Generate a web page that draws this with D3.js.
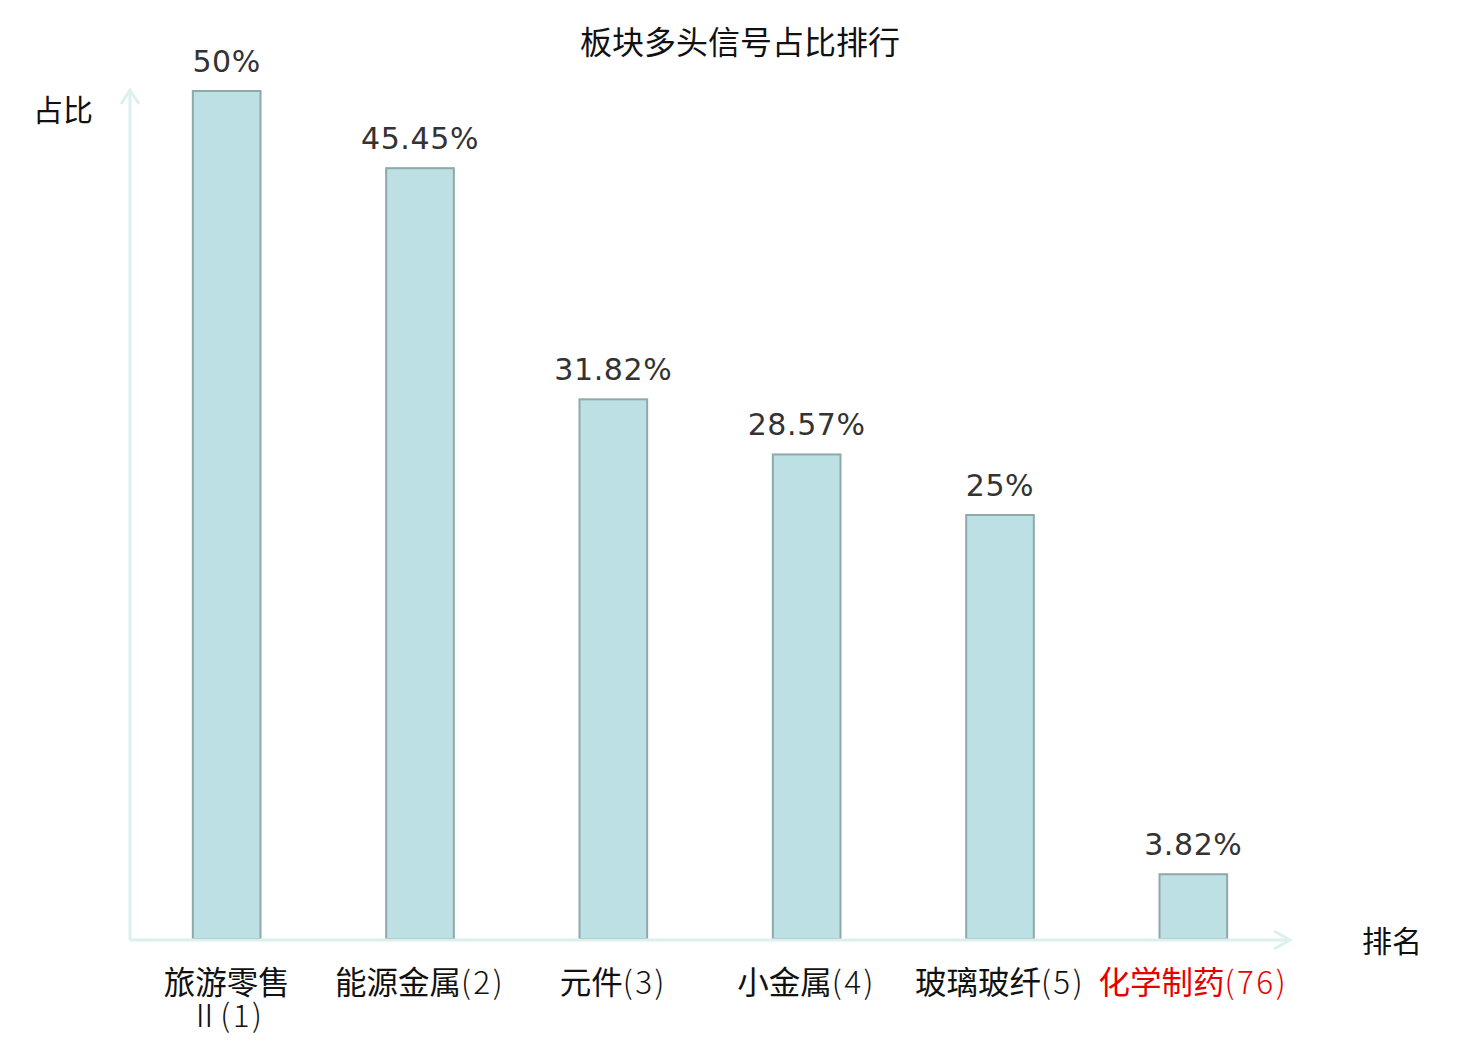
<!DOCTYPE html>
<html><head><meta charset="utf-8">
<script src="https://cdn.jsdelivr.net/npm/d3@7/dist/d3.min.js"></script>
<style>body{margin:0;background:#fff}</style>
</head><body>
<svg id="c" width="1480" height="1040"></svg>
<script>
const categories = ["旅游零售Ⅱ(1)", "能源金属(2)", "元件(3)", "小金属(4)", "玻璃玻纤(5)", "化学制药(76)"];
const labelNames = [["旅游零售", "Ⅱ"], ["能源金属"], ["元件"], ["小金属"], ["玻璃玻纤"], ["化学制药"]];
const ranks = ["(1)", "(2)", "(3)", "(4)", "(5)", "(76)"];
const values = [50, 45.45, 31.82, 28.57, 25, 3.82];
const valueLabels = ["50%", "45.45%", "31.82%", "28.57%", "25%", "3.82%"];
const highlight = [false, false, false, false, false, true];

const svg = d3.select("#c");
const x0 = 130, x1 = 1290, yBase = 939, yTop = 91;
const x = d3.scaleBand().domain(categories).range([x0, x1]).paddingInner(0).paddingOuter(0);
const y = d3.scaleLinear().domain([0, 50]).range([yBase, yTop]);
const bw = x.bandwidth() * 0.35;
const axisColor = "#dcf1ee";

// title
svg.append("text").attr("x", 740).attr("y", 54).attr("text-anchor", "middle")
  .attr("font-family", "Noto Sans CJK SC").attr("font-size", 32).attr("fill", "#111")
  .text("板块多头信号占比排行");

// bars
svg.selectAll("rect.bar").data(values).join("rect")
  .attr("x", (d, i) => x(categories[i]) + x.bandwidth() / 2 - bw / 2)
  .attr("y", d => y(d)).attr("width", bw).attr("height", d => yBase - y(d))
  .attr("fill", "#bce0e3").attr("stroke", "#8fa8aa").attr("stroke-width", 2);

// value labels
svg.selectAll("text.val").data(values).join("text")
  .attr("x", (d, i) => x(categories[i]) + x.bandwidth() / 2)
  .attr("y", d => y(d) - 19).attr("text-anchor", "middle")
  .attr("font-family", "DejaVu Sans").attr("font-size", 30).attr("fill", "#333")
  .attr("letter-spacing", 0.6)
  .text((d, i) => valueLabels[i]);

// axes
svg.append("line").attr("x1", x0).attr("x2", x0).attr("y1", yBase + 1).attr("y2", 90)
  .attr("stroke", axisColor).attr("stroke-width", 3);
svg.append("path").attr("d", `M${x0 - 9},${104} L${x0},${90} L${x0 + 9},${104}`)
  .attr("fill", "none").attr("stroke", axisColor).attr("stroke-width", 3);
svg.append("line").attr("x1", x0).attr("x2", x1).attr("y1", yBase + 1).attr("y2", yBase + 1)
  .attr("stroke", axisColor).attr("stroke-width", 3);
svg.append("path").attr("d", `M${x1 - 16},${yBase + 1 - 9} L${x1},${yBase + 1} L${x1 - 16},${yBase + 1 + 9}`)
  .attr("fill", "none").attr("stroke", axisColor).attr("stroke-width", 3);

// axis names
svg.append("text").attr("x", 63).attr("y", 121).attr("text-anchor", "middle")
  .attr("font-family", "Noto Sans CJK SC").attr("font-size", 30).attr("fill", "#111").text("占比");
svg.append("text").attr("x", 1392).attr("y", 952).attr("text-anchor", "middle")
  .attr("font-family", "Noto Sans CJK SC").attr("font-size", 30).attr("fill", "#111").text("排名");

// category labels
categories.forEach((c, i) => {
  const cx = x(c) + x.bandwidth() / 2;
  const lines = labelNames[i];
  const t = svg.append("text").attr("x", cx).attr("y", 994).attr("text-anchor", "middle")
    .attr("font-family", "Noto Sans CJK SC").attr("font-size", 31.5)
    .attr("fill", highlight[i] ? "#e60000" : "#111");
  lines.forEach((ln, k) => {
    const s = t.append("tspan").attr("font-weight", k === 1 ? 300 : 400).text(ln);
    if (k > 0) s.attr("x", cx).attr("dy", 33);
  });
  t.append("tspan").attr("font-weight", 300).attr("letter-spacing", 2.5).text(ranks[i]);
});
</script>
</body></html>
